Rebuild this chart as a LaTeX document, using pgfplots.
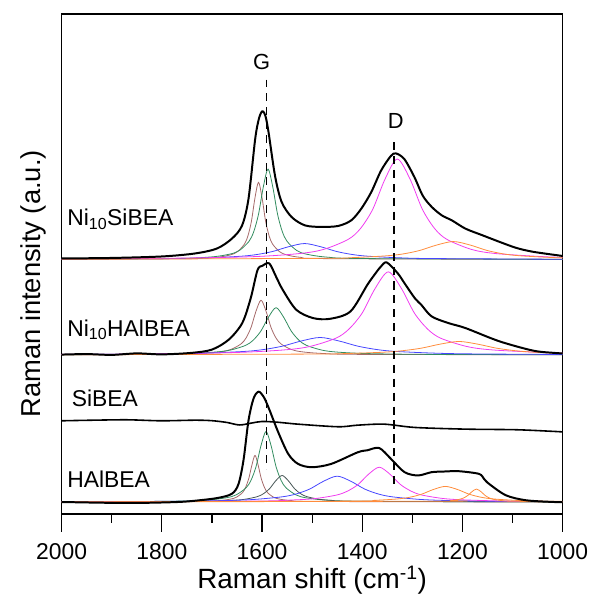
\documentclass[border=0pt]{standalone}
\usepackage{fontspec}
\setmainfont{Liberation Sans}
\usepackage{pgfplots}
\pgfplotsset{compat=1.18}
\definecolor{cbrown}{RGB}{165,105,105}
\definecolor{cgreen}{RGB}{50,140,95}
\definecolor{cslate}{RGB}{70,85,85}
\definecolor{cblue}{RGB}{70,70,255}
\definecolor{cmag}{RGB}{240,60,240}
\definecolor{corange}{RGB}{255,140,60}
\newcommand{\labfont}{\fontsize{23}{27}\selectfont}
\begin{document}
\begin{tikzpicture}
\begin{axis}[
    name=ax, at={(0,0)}, anchor=south west,
    width=504pt, height=503pt, scale only axis,
    xmin=1000, xmax=2000, ymin=0, ymax=503,
    x dir=reverse,
    axis line style={line width=1.2pt},
    xtick={1000,1200,1400,1600,1800,2000},
    minor xtick={1100,1300,1500,1700,1900},
    ytick=\empty, xtick pos=left, tick align=outside,
    major tick length=18pt, minor tick length=9pt,
    every tick/.style={black, line width=1.2pt},
    /pgf/number format/1000 sep={},
    /pgf/number format/assume math mode=true,
    tick label style={font=\labfont},
    xticklabel style={anchor=base, yshift=-28pt},
    xlabel={Raman shift (cm\textsuperscript{-1})},
    ylabel={Raman intensity (a.u.)},
    xlabel style={font=\fontsize{28}{32}\selectfont, at={(axis description cs:0.5,-0.150)}, anchor=base},
    ylabel style={font=\fontsize{27.5}{32}\selectfont, inner sep=0pt, at={(axis description cs:-0.0298,0.46)}, anchor=south},
    clip=false,
    every axis plot/.append style={smooth, line join=round},
]
% --- Ni10SiBEA components
\addplot[cbrown, line width=0.8pt] coordinates {(1000,256.0)(1467,256.8)(1523,258.1)(1551,260.6)(1565,263.8)(1579,271.5)(1586,279.9)(1593,294.9)(1600,318.2)(1607,333.7)(1614,318.2)(1621,294.9)(1628,279.9)(1635,271.5)(1649,263.8)(1663,260.6)(1691,258.1)(1747,256.8)(2000,256.1)};
\addplot[cgreen, line width=0.8pt] coordinates {(1000,256.1)(1398,256.9)(1474,258.5)(1512,261.4)(1531,265.1)(1550,274.2)(1559.5,284)(1569,301.5)(1578.5,328.8)(1588,347)(1597.5,328.8)(1607,301.5)(1616.5,284)(1626,274.2)(1645,265.1)(1664,261.4)(1702,258.5)(1778,256.9)(2000,256.2)};
\addplot[cblue, line width=0.8pt] coordinates {(1000,256.2)(1259,256.9)(1323,257.6)(1387,259.2)(1419,260.9)(1451,264)(1483,268.8)(1515,272)(1547,268.8)(1579,264)(1611,260.9)(1643,259.2)(1707,257.6)(1771,256.9)(2000,256.3)};
\addplot[cmag, line width=0.8pt] coordinates {(1000,258.2)(1035,258.7)(1133,261.9)(1182,266.1)(1231,276.2)(1255.5,287.1)(1280,306.5)(1304.5,336.8)(1330,357)(1354.5,336.8)(1379,306.5)(1403.5,287.1)(1428,276.2)(1477,266.1)(1526,261.9)(1624,258.7)(1819,257.0)(2000,256.5)};
\addplot[corange, line width=0.8pt] coordinates {(1000,257.6)(1015.5,257.8)(1083,259.6)(1117,261.5)(1150.5,265)(1184,270.4)(1218,274)(1252,270.4)(1285.5,265)(1319,261.5)(1353,259.6)(1420.5,257.8)(1488,257.1)(2000,256.1)};
% --- Ni10HAlBEA components
\addplot[cbrown, line width=0.8pt] coordinates {(1000,160.1)(1402,160.5)(1482,161.5)(1522,163.2)(1542,165.5)(1562,171)(1572,176.9)(1582,187.5)(1592,204)(1602,215)(1612,204)(1622,187.5)(1632,176.9)(1642,171)(1662,165.5)(1682,163.2)(1722,161.5)(1802,160.5)(2000,160.1)};
\addplot[cgreen, line width=0.8pt] coordinates {(1000,160.1)(1267,160.5)(1389,161.3)(1450,162.8)(1480.5,164.8)(1511,169.5)(1526,174.6)(1541.5,183.8)(1557,198)(1572,207.5)(1587,198)(1602.5,183.8)(1618,174.6)(1633,169.5)(1663.5,164.8)(1694,162.8)(1755,161.3)(1877,160.5)(2000,160.2)};
\addplot[cblue, line width=0.8pt] coordinates {(1000,160.4)(1184,161)(1259,161.8)(1334,163.5)(1371.5,165.4)(1409,168.8)(1446.5,174)(1484,177.5)(1521.5,174)(1559,168.8)(1596.5,165.4)(1634,163.5)(1709,161.8)(1784,161)(2000,160.4)};
\addplot[cmag, line width=0.8pt] coordinates {(1000,161.9)(1033,162.25)(1138,164.9)(1190.5,168.35)(1243,176.7)(1269,185.7)(1295.5,201.75)(1321.75,226.8)(1348,243.5)(1374.25,226.8)(1400.5,201.75)(1427,185.7)(1453,176.7)(1505.5,168.35)(1558,164.9)(1663,162.25)(1873,160.8)(2000,160.5)};
\addplot[corange, line width=0.8pt] coordinates {(1000,161.6)(1057,162.7)(1094.5,164.2)(1132,166.75)(1169.5,170.8)(1207,173.5)(1244.5,170.8)(1282,166.75)(1319.5,164.2)(1357,162.7)(1432,161.35)(1507,160.8)(2000,160.1)};
% --- HAlBEA components
\addplot[cbrown, line width=0.8pt] coordinates {(1000,12)(1489,12.5)(1539,13.3)(1564,14.8)(1576.5,16.7)(1589,21.4)(1595,26.5)(1601.5,35.5)(1608,49.6)(1614,59)(1620,49.6)(1626.5,35.5)(1633,26.5)(1639,21.4)(1651.5,16.7)(1664,14.8)(1689,13.3)(1739,12.5)(2000,12)};
\addplot[cgreen, line width=0.8pt] coordinates {(1000,12.1)(1392,12.7)(1472,13.9)(1512,16.2)(1532,19.1)(1552,26.2)(1562,33.8)(1572,47.5)(1582,68.8)(1592,83)(1602,68.8)(1612,47.5)(1622,33.8)(1632,26.2)(1652,19.1)(1672,16.2)(1712,13.9)(1792,12.7)(2000,12.2)};
\addplot[cslate, line width=0.8pt] coordinates {(1000,12.1)(1410,12.7)(1460,13.6)(1485,14.7)(1510,17.3)(1522.5,20.2)(1535,25.35)(1547.5,33.4)(1560,38.7)(1572.5,33.4)(1585,25.35)(1597.5,20.2)(1610,17.3)(1635,14.7)(1660,13.6)(1710,12.7)(2000,12.1)};
\addplot[cblue, line width=0.8pt] coordinates {(1000,12.4)(1120,12.7)(1230,13.5)(1285,14.6)(1340,17.2)(1367.5,20)(1395,25)(1422.5,32.8)(1450,38)(1477.5,32.8)(1505,25)(1532.5,20)(1560,17.2)(1615,14.6)(1670,13.5)(1780,12.7)(2000,12.3)};
\addplot[cmag, line width=0.8pt] coordinates {(1000,12.5)(1111,12.9)(1196,14.1)(1238.5,15.5)(1281,19)(1302,22.8)(1323.5,29.5)(1344.75,40)(1366,47)(1387.25,40)(1408.5,29.5)(1430,22.8)(1451,19)(1493.5,15.5)(1536,14.1)(1621,12.9)(2000,12.2)};
\addplot[corange, line width=0.8pt] coordinates {(1000,12.6)(1044,12.9)(1091.5,13.6)(1139,15.1)(1163,16.8)(1186.5,19.85)(1210,24.6)(1234,27.7)(1258,24.6)(1281.5,19.85)(1305,16.8)(1329,15.1)(1376.5,13.6)(1424,12.9)(2000,12.1)};
\addplot[corange, line width=0.8pt] coordinates {(1000,12)(1102,12.8)(1119.5,13.3)(1137,14.6)(1146,16)(1154.5,18.5)(1163,22.4)(1172,25)(1181,22.4)(1189.5,18.5)(1198,16)(1207,14.6)(1224.5,13.3)(1242,12.8)(2000,12)};
% --- measured spectra
\addplot[black, line width=2pt] coordinates {(1000,259.5)(1059,263.7)(1093,267.7)(1126,273.7)(1160,280.3)(1194,287)(1221,295.3)(1241,300.3)(1261,308.7)(1279,320)(1296,339)(1316,357)(1333,362.7)(1343,360)(1362.5,345.3)(1382,323.7)(1402,307)(1422,295.3)(1448,289.7)(1482,288.7)(1514.5,290.3)(1541,298.7)(1561,314)(1574,340)(1587,384)(1593,400)(1599,405.3)(1606,398)(1613.7,377)(1627,317)(1640,290)(1660,277)(1690,267)(1734,262)(1800,259)(1900,257.5)(2000,257)};
\addplot[black, line width=2pt] coordinates {(1000,161.5)(1017,162)(1059,164.3)(1126.5,173.7)(1194,187)(1228,192)(1261.5,198.7)(1282,210.3)(1295,217)(1315.5,232)(1329,242)(1351,253)(1363,248.7)(1376,240.3)(1390,230.3)(1423.5,203.7)(1464,196.3)(1498,197)(1531.5,205.3)(1558.5,225.3)(1572,238.7)(1585.5,252)(1599,249.7)(1609,245.3)(1622.6,217)(1639.5,192)(1666.5,175.3)(1700,165.3)(1741,162)(1800,160.5)(1850,161.5)(1900,160)(1950,160.8)(2000,160.3)};
\addplot[black, line width=1.6pt] coordinates {(1000,82.5)(1017,83)(1093,84.7)(1194,85.3)(1295,87)(1356,90.3)(1409,89.3)(1448,87.7)(1528,90.3)(1570,92.3)(1600,93)(1620,91.5)(1645,89.5)(1670,92)(1700,93.8)(1734,94.3)(1801.5,93.7)(1869,94.7)(1936.5,94.3)(2000,93.7)};
\addplot[black, line width=2pt] coordinates {(1000,12)(1017,12)(1072.5,13.7)(1113,18.7)(1147,30.3)(1157,35.3)(1167,40.3)(1207.5,43)(1234.5,42.7)(1261.5,42)(1288.5,38.7)(1315.5,42)(1342.5,55.3)(1366,66.3)(1390,64)(1409,62)(1462,50.3)(1501,47)(1528,50.3)(1547.6,60.3)(1567.5,82)(1587,107)(1597,118)(1607,123)(1617,116)(1627,94)(1637,54)(1647,30)(1660,20.3)(1686,16.3)(1720,14)(1768,12)(1869,11)(2000,12)};
% --- band positions
\addplot[black, line width=1.8pt, dash pattern=on 8pt off 6pt, no markers] coordinates {(1591,437)(1591,45)};
\addplot[black, line width=1.8pt, dash pattern=on 8pt off 6pt, no markers] coordinates {(1336,374)(1336,30)};
\node[anchor=base, inner sep=0pt, font=\fontsize{22}{26}\selectfont] at (axis cs:1601,447) {G};
\node[anchor=base, inner sep=0pt, font=\fontsize{22}{26}\selectfont] at (axis cs:1333,388) {D};
\node[anchor=base west, inner sep=0pt, font=\labfont] at (axis cs:1989,290.3) {Ni\textsubscript{10}SiBEA};
\node[anchor=base west, inner sep=0pt, font=\labfont] at (axis cs:1989,178.7) {Ni\textsubscript{10}HAlBEA};
\node[anchor=base west, inner sep=0pt, font=\labfont] at (axis cs:1980,108) {SiBEA};
\node[anchor=base west, inner sep=0pt, font=\labfont] at (axis cs:1989,26.3) {HAlBEA};
\end{axis}
\path (-62pt,-81pt) (531pt,517pt);
\end{tikzpicture}
\end{document}
